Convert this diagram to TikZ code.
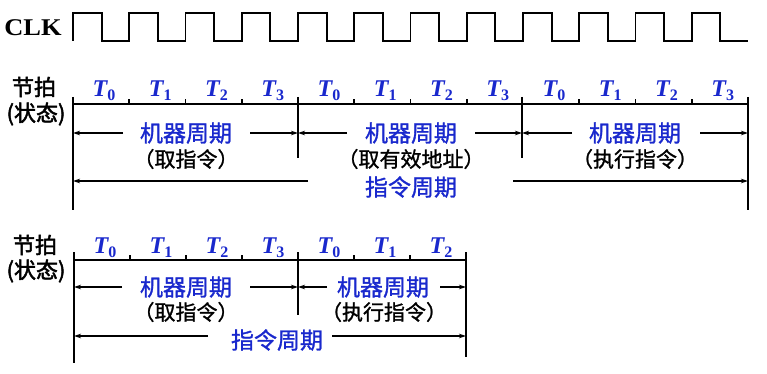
\documentclass[tikz,border=0pt]{standalone}
\usepackage{fontspec}
\setmainfont{Liberation Serif}
\newfontfamily\cjk[FakeBold=1.2]{Noto Sans CJK SC}
\newfontfamily\cjkb[FakeBold=2]{Noto Sans CJK SC}
\usetikzlibrary{arrows.meta,calc}
\definecolor{tblue}{RGB}{25,40,205}
\newcommand\Tlab[1]{{\bfseries\itshape\fontsize{24}{24}\selectfont T}\raisebox{-4pt}{\bfseries\fontsize{16}{16}\selectfont #1}}
\begin{document}
\begin{tikzpicture}[x=1pt,y=-1pt,
  wave/.style={line width=1.8pt, line join=miter},
  axis/.style={line width=1.8pt},
  tickmark/.style={line width=1.6pt},
  arr/.style={line width=1.6pt,-{Stealth[length=7pt,width=4.5pt]}},
  mc/.style={font=\cjk\fontsize{23}{23}\selectfont, text=tblue, inner sep=0pt},
  subl/.style={font=\cjk\fontsize{21}{21}\selectfont, inner sep=0pt},
  side/.style={font=\cjkb\fontsize{22}{22}\selectfont, inner sep=0pt},
  tlab/.style={text=tblue, inner sep=0pt, anchor=base}
]
\useasboundingbox[fill=white] (0,0) rectangle (767,374);

% ---------- CLK ----------
\node[font=\bfseries\fontsize{24}{24}\selectfont, inner sep=0pt] (clk) at (33,28) {\scalebox{1.1}[1]{CLK}};
\draw[wave] (73,41) \foreach \k in {0,...,11} {
  -- ({73+56.25*\k},13) -- ({101.6+56.25*\k},13) -- ({101.6+56.25*\k},41) -- ({129.25+56.25*\k},41)
} -- (748,41);

% ---------- top diagram ----------
\node[side] (jp1) at (34,87) {节拍};
\node[side] (zt1) at (36,114) {(状态)};

\coordinate (A0) at (73,104);
\coordinate (A1) at (298,104);
\coordinate (A2) at (522,104);
\coordinate (A3) at (748,104);
\draw[axis] (A0) -- (A3);
\draw[axis] (73,97) -- (73,210);
\draw[axis] (298,97) -- (298,158);
\draw[axis] (522,97) -- (522,158);
\draw[axis] (748,97) -- (748,210);
\foreach \k in {1,2,3,5,6,7,9,10,11}
  \draw[tickmark] ({73+56.25*\k},104) -- ({73+56.25*\k},99);
\foreach \k in {0,...,11} {
  \pgfmathtruncatemacro\j{mod(\k,4)}
  \node[tlab] (ta\k) at ({73+56.25*\k+31},97) {\Tlab{\j}};
}

\node[mc] (m1) at (186,133) {机器周期};
\node[subl] (s1) at (186,159) {（取指令）};
\node[mc] (m2) at (411,133) {机器周期};
\node[subl] (s2) at (411,159) {（取有效地址）};
\node[mc] (m3) at (635,133) {机器周期};
\node[subl] (s3) at (635,159) {（执行指令）};
\node[mc] (ic1) at (411,187) {指令周期};

\coordinate (p1l) at (123,133); \coordinate (p1r) at (250,133);
\coordinate (p2l) at (347,133); \coordinate (p2r) at (475,133);
\coordinate (p3l) at (572,133); \coordinate (p3r) at (700,133);
\coordinate (q1l) at (308,181); \coordinate (q1r) at (513,181);
\draw[arr] (p1l) -- (p1l -| A0);
\draw[arr] (p1r) -- (p1r -| A1);
\draw[arr] (p2l) -- (p2l -| A1);
\draw[arr] (p2r) -- (p2r -| A2);
\draw[arr] (p3l) -- (p3l -| A2);
\draw[arr] (p3r) -- (p3r -| A3);
\draw[arr] (q1l) -- (q1l -| A0);
\draw[arr] (q1r) -- (q1r -| A3);

% ---------- bottom diagram ----------
\node[side] (jp2) at (35,245) {节拍};
\node[side] (zt2) at (36,271) {(状态)};

\coordinate (B0) at (74,260);
\coordinate (B1) at (298,260);
\coordinate (B2) at (466,260);
\draw[axis] (B0) -- (B2);
\draw[axis] (74,252) -- (74,363);
\draw[axis] (298,252) -- (298,315);
\draw[axis] (466,252) -- (466,357);
\foreach \k in {1,2,3,5,6}
  \draw[tickmark] ({74+56*\k},260) -- ({74+56*\k},255);
\foreach \k/\j in {0/0,1/1,2/2,3/3,4/0,5/1,6/2}
  \node[tlab] (tb\k) at ({74+56*\k+31},253) {\Tlab{\j}};

\node[mc] (m4) at (186,287) {机器周期};
\node[subl] (s4) at (186,312) {（取指令）};
\node[mc] (m5) at (383,287) {机器周期};
\node[subl] (s5) at (384,312) {（执行指令）};
\node[mc] (ic2) at (277,340) {指令周期};

\coordinate (p4l) at (122,287); \coordinate (p4r) at (250,287);
\coordinate (p5l) at (327,287); \coordinate (p5r) at (440,287);
\coordinate (q2l) at (208,336); \coordinate (q2r) at (332,336);
\draw[arr] (p4l) -- (p4l -| B0);
\draw[arr] (p4r) -- (p4r -| B1);
\draw[arr] (p5l) -- (p5l -| B1);
\draw[arr] (p5r) -- (p5r -| B2);
\draw[arr] (q2l) -- (q2l -| B0);
\draw[arr] (q2r) -- (q2r -| B2);
\end{tikzpicture}
\end{document}
